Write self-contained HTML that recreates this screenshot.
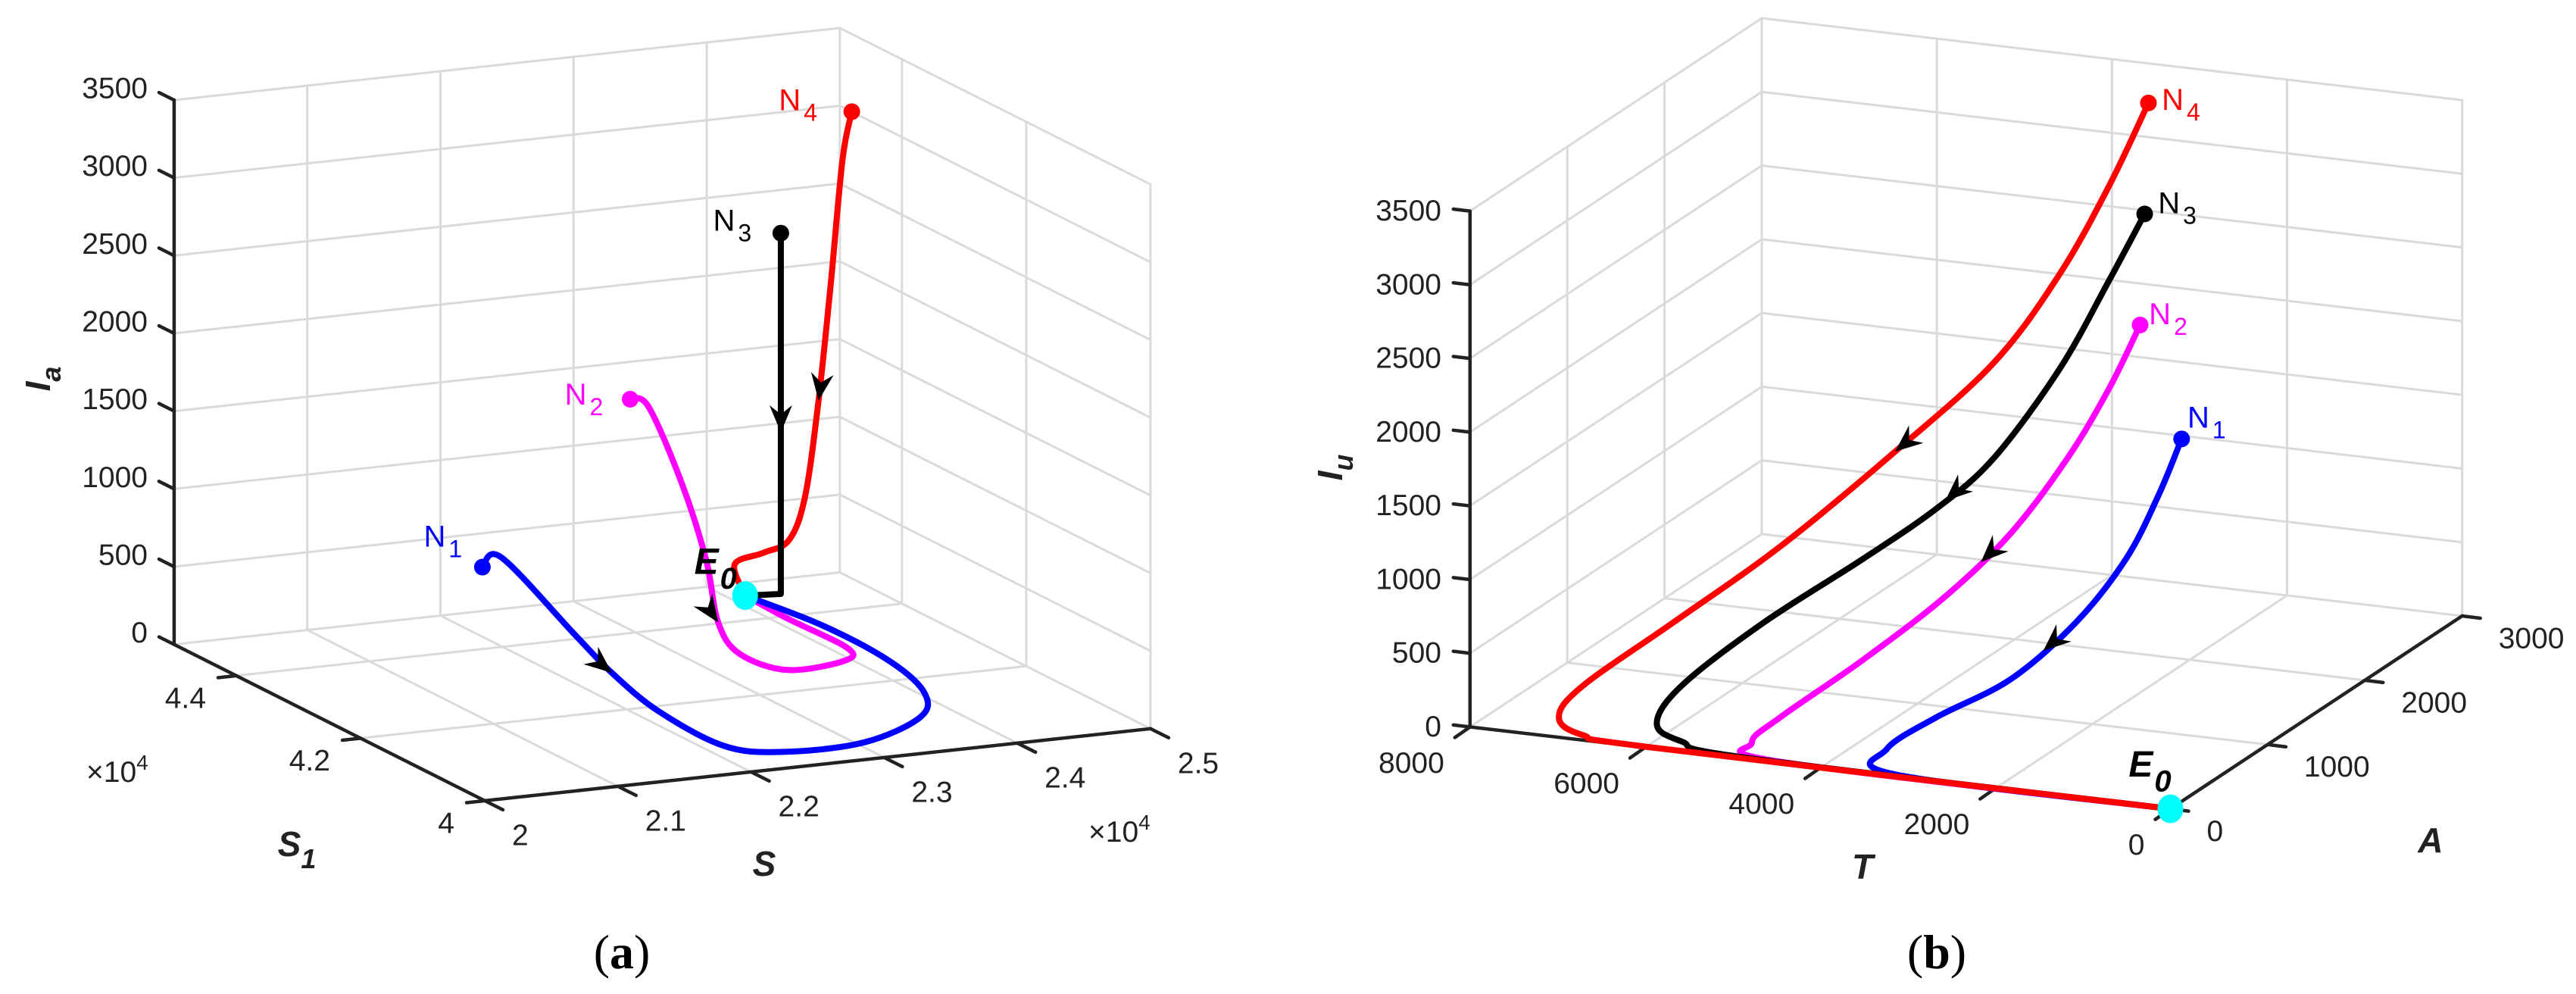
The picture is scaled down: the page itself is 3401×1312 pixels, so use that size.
<!DOCTYPE html>
<html><head><meta charset="utf-8"><style>
html,body{margin:0;padding:0;background:#fff;}
svg{display:block;}
text{font-family:"Liberation Sans",Arial,sans-serif;}
</style></head><body>
<svg id="fig" width="3401" height="1312" viewBox="0 0 3401 1312" xmlns="http://www.w3.org/2000/svg">
<g id="gridL"></g>
<g id="gridR"></g>
<g id="axesG"></g>
<g id="curvesG"></g>
<g id="labelsG"></g>
<text x="1009" y="1156" font-size="46" font-weight="bold" font-style="italic" text-anchor="middle" fill="#222">S</text>
<text x="392" y="1130" font-size="46" font-weight="bold" font-style="italic" text-anchor="middle" fill="#222">S<tspan font-size="36" dy="16">1</tspan></text>
<text transform="translate(66,500) rotate(-90)" font-size="46" font-weight="bold" font-style="italic" text-anchor="middle" fill="#222">I<tspan font-size="36" dy="14">a</tspan></text>
<text x="114" y="1032" font-size="39" fill="#222">×10<tspan font-size="28" dy="-16">4</tspan></text>
<text x="1437" y="1111" font-size="39" fill="#222">×10<tspan font-size="28" dy="-16">4</tspan></text>
<text x="821" y="1278" font-size="64" style="font-family:'Liberation Serif',serif" text-anchor="middle" fill="#000">(<tspan font-weight="bold">a</tspan>)</text>
<text x="2459" y="1160" font-size="46" font-weight="bold" font-style="italic" text-anchor="middle" fill="#222">T</text>
<text x="3209" y="1125" font-size="46" font-weight="bold" font-style="italic" text-anchor="middle" fill="#222">A</text>
<text transform="translate(1772,617) rotate(-90)" font-size="46" font-weight="bold" font-style="italic" text-anchor="middle" fill="#222">I<tspan font-size="36" dy="14">u</tspan></text>
<text x="2557" y="1278" font-size="64" style="font-family:'Liberation Serif',serif" text-anchor="middle" fill="#000">(<tspan font-weight="bold">b</tspan>)</text>
</svg>
<script>
// ---- Panel (a) data: S (x1e4), S1 (x1e4), Ia ----
const zTicksA = [0,500,1000,1500,2000,2500,3000,3500];
const sTicks = [2,2.1,2.2,2.3,2.4,2.5];
const s1Ticks = [4,4.2,4.4];
const n1S  = [2.190,2.204,2.202,2.207,2.208,2.215,2.243,2.305,2.372,2.405,2.422,2.424,2.413];
const n1S1 = [4.411,4.410,4.287,4.239,4.167,4.077,4.044,4.045,4.096,4.161,4.255,4.366,4.466];
const n1Ia = [500,550,300,150,50,0,0,0,0,0,0,0,0];
const n2S  = [2.287,2.291,2.321,2.357,2.348,2.338,2.348,2.396,2.412,2.411,2.413];
const n2S1 = [4.381,4.360,4.371,4.409,4.370,4.314,4.258,4.267,4.301,4.392,4.466];
const n2Ia = [1550,1540,1000,400,80,0,0,0,0,0,0];
const n3S  = [2.437,2.437,2.437,2.413];
const n3S1 = [4.460,4.460,4.460,4.466];
const n3Ia = [2320,1038,0,0];
const n4S  = [2.495,2.488,2.479,2.470,2.460,2.448,2.429,2.407,2.413];
const n4S1 = [4.470,4.470,4.470,4.470,4.470,4.470,4.470,4.470,4.466];
const n4Ia = [3027,2724,1918,1193,590,318,253,198,0];
const e0A = [2.413,4.466,0];
// ---- Panel (b) data: T, A, Iu ----
const zTicksB = [0,500,1000,1500,2000,2500,3000,3500];
const tTicks = [0,2000,4000,6000,8000];
const aTicks = [0,1000,2000,3000];
const m1T = [2760,2693,2675,2799,3048,3393,3461,3144,0];
const m1A = [2600,2300,1950,1550,1100,650,200,0,0];
const m1I = [1184,934,658,395,187,103,78,15,0];
const m2T = [3234,3309,3450,3715,4076,4570,5009,4947,4453,0];
const m2A = [2600,2350,2050,1700,1350,950,500,150,0,0];
const m2I = [1924,1599,1247,868,566,277,56,40,10,0];
const m3T = [3182,3309,3544,3960,4337,4848,5587,6082,6033,5615,4832,0];
const m3A = [2600,2350,2050,1750,1500,1200,850,450,150,30,0,0];
const m3I = [2681,2332,1843,1342,1082,834,506,217,95,54,10,0];
const m4T = [3139,3309,3544,3960,4699,5564,6399,7043,7096,6732,5866,0];
const m4A = [2600,2350,2050,1750,1400,1000,650,300,100,20,0,0];
const m4I = [3437,2974,2486,1989,1487,959,537,215,86,24,5,0];
const e0B = [0,0,0];

const NS='http://www.w3.org/2000/svg';
function mk(tag,attrs,parent){const e=document.createElementNS(NS,tag);for(const k in attrs)e.setAttribute(k,attrs[k]);parent.appendChild(e);return e;}
function pL(S,S1,z){const u=(S-2)/0.5,v=(S1-4)/0.5;return [640.0+878.9*u-410.1*v,1056.9-95.1*u-206.3*v-z*718.5/3500];}
function pR(T,A,z){return [2865.5-924.7*T/8000+385.2*A/3000,1067.6-108.1*T/8000-254.6*A/3000-680.9*z/3500];}

const gL=document.getElementById('gridL'),gR=document.getElementById('gridR'),ax=document.getElementById('axesG'),cv=document.getElementById('curvesG'),lb=document.getElementById('labelsG');
function line(p,q,parent,stroke,w,name){const e=mk('line',{x1:p[0],y1:p[1],x2:q[0],y2:q[1],stroke:stroke,'stroke-width':w,'stroke-linecap':'round'},parent);


return e;}
const GC='#dadada';
zTicksA.forEach(z=>{line(pL(2,4.5,z),pL(2.5,4.5,z),gL,GC,3,'grid-line');line(pL(2.5,4.5,z),pL(2.5,4,z),gL,GC,3,'grid-line');});
sTicks.slice(1).forEach(s=>{line(pL(s,4.5,0),pL(s,4.5,3500),gL,GC,3,'grid-line');});
s1Ticks.forEach(s1=>{line(pL(2.5,s1,0),pL(2.5,s1,3500),gL,GC,3,'grid-line');});
sTicks.slice(1,-1).forEach(s=>{line(pL(s,4,0),pL(s,4.5,0),gL,GC,3,'grid-line');});
s1Ticks.slice(1).forEach(s1=>{line(pL(2,s1,0),pL(2.5,s1,0),gL,GC,3,'grid-line');});
zTicksB.forEach(z=>{line(pR(8000,0,z),pR(8000,3000,z),gR,GC,3,'grid-line');line(pR(8000,3000,z),pR(0,3000,z),gR,GC,3,'grid-line');});
aTicks.slice(1).forEach(a=>{line(pR(8000,a,0),pR(8000,a,3500),gR,GC,3,'grid-line');});
tTicks.slice(0,-1).forEach(t=>{line(pR(t,3000,0),pR(t,3000,3500),gR,GC,3,'grid-line');});
tTicks.slice(1,-1).forEach(t=>{line(pR(t,0,0),pR(t,3000,0),gR,GC,3,'grid-line');});
aTicks.slice(1,-1).forEach(a=>{line(pR(8000,a,0),pR(0,a,0),gR,GC,3,'grid-line');});

const AC='#222';
function txt(x,y,s,anchor,name,size){const t=mk('text',{x:x,y:y,'font-size':size||39,'text-anchor':anchor,'dominant-baseline':'central',fill:'#222'},lb);t.textContent=s;

return t;}
function add(p,d){return [p[0]+d[0],p[1]+d[1]];}
line(pL(2,4.5,0),pL(2,4.5,3500),ax,AC,4.5,'z-axis-a');
line(pL(2,4.5,0),pL(2,4,0),ax,AC,4.5,'s1-axis');
line(pL(2,4,0),pL(2.5,4,0),ax,AC,4.5,'s-axis');
zTicksA.forEach(z=>{const p=pL(2,4.5,z);line(p,add(p,[-20,-10]),ax,AC,4.5,'z-tick-a');txt(195,p[1]-15,String(z),'end','z-tick-label-a');});
s1Ticks.forEach(s1=>{const p=pL(2,s1,0);line(p,add(p,[-24,2.6]),ax,AC,4.5,'s1-tick');txt(p[0]-40,p[1]+30,String(s1),'end','s1-tick-label');});
sTicks.forEach(s=>{const p=pL(s,4,0);line(p,add(p,[24,12]),ax,AC,4.5,'s-tick');txt(p[0]+36,p[1]+46,String(s),'start','s-tick-label');});
line(pR(8000,0,0),pR(8000,0,3500),ax,AC,4.5,'z-axis-b');
line(pR(8000,0,0),pR(0,0,0),ax,AC,4.5,'t-axis');
line(pR(0,0,0),pR(0,3000,0),ax,AC,4.5,'a-axis');
zTicksB.forEach(z=>{const p=pR(8000,0,z);line(p,add(p,[-22,-2.6]),ax,AC,4.5,'z-tick-b');txt(1903,p[1],String(z),'end','z-tick-label-b');});
tTicks.forEach(t=>{const p=pR(t,0,0);line(p,add(p,[-20,14]),ax,AC,4.5,'t-tick');txt(p[0]-34,p[1]+48,String(t),'end','t-tick-label');});
aTicks.forEach(a=>{const p=pR(0,a,0);line(p,add(p,[24,3]),ax,AC,4.5,'a-tick');txt(p[0]+48,p[1]+30,String(a),'start','a-tick-label');});

function smoothPath(pts,straight){if(straight)return 'M'+pts.map(p=>p[0].toFixed(1)+','+p[1].toFixed(1)).join(' L');
let d='M'+pts[0][0].toFixed(1)+','+pts[0][1].toFixed(1);
for(let i=0;i<pts.length-1;i++){const p0=pts[Math.max(0,i-1)],p1=pts[i],p2=pts[i+1],p3=pts[Math.min(pts.length-1,i+2)];
const c1=[p1[0]+(p2[0]-p0[0])/6,p1[1]+(p2[1]-p0[1])/6],c2=[p2[0]-(p3[0]-p1[0])/6,p2[1]-(p3[1]-p1[1])/6];
d+=' C'+c1[0].toFixed(1)+','+c1[1].toFixed(1)+' '+c2[0].toFixed(1)+','+c2[1].toFixed(1)+' '+p2[0].toFixed(1)+','+p2[1].toFixed(1);}return d;}
function drawSeries(pts,color,name,arrowIdx,straight,labelTxt,lOff){
const path=mk('path',{d:smoothPath(pts,straight),fill:'none',stroke:color,'stroke-width':8,'stroke-linejoin':'round','stroke-linecap':'round'},cv);


const i=Math.floor(arrowIdx),f=arrowIdx-i;const a=pts[i],b=pts[Math.min(i+1,pts.length-1)];
const p=[a[0]+(b[0]-a[0])*f,a[1]+(b[1]-a[1])*f];const ang=Math.atan2(b[1]-a[1],b[0]-a[0])*180/Math.PI;
const ar=mk('path',{d:'M0,0 L-36,-15 L-24,0 L-36,15 Z',fill:'#000',transform:'translate('+p[0].toFixed(1)+','+p[1].toFixed(1)+') rotate('+ang.toFixed(1)+')'},cv);


const m=mk('circle',{cx:pts[0][0],cy:pts[0][1],r:11,fill:color},cv);


const t=mk('text',{x:pts[0][0]+lOff[0],y:pts[0][1]+lOff[1],'font-size':40,'text-anchor':'middle','dominant-baseline':'central',fill:color},lb);


t.appendChild(document.createTextNode('N'));const ts=mk('tspan',{'font-size':32,dx:4,dy:16},t);ts.textContent=labelTxt;}
function ptsL(S,S1,I){return S.map((s,k)=>pL(s,S1[k],I[k]));}
function ptsR(T,A,I){return T.map((t,k)=>pR(t,A[k],I[k]));}
drawSeries(ptsL(n2S,n2S1,n2Ia),'#ff00ff','n2-a',4,false,'2',[-61,-6]);
drawSeries(ptsL(n1S,n1S1,n1Ia),'#0000ff','n1-a',3,false,'1',[-52,-40]);
drawSeries(ptsL(n4S,n4S1,n4Ia),'#ff0000','n4-a',3,false,'4',[-71,-15]);
drawSeries(ptsL(n3S,n3S1,n3Ia),'#000000','n3-a',1,true,'3',[-64,-16]);
drawSeries(ptsR(m1T,m1A,m1I),'#0000ff','n1-b',3.5,false,'1',[33,-28]);
drawSeries(ptsR(m2T,m2A,m2I),'#ff00ff','n2-b',3.45,false,'2',[37,-14]);
drawSeries(ptsR(m3T,m3A,m3I),'#000000','n3-b',3.85,false,'3',[43,-14]);
drawSeries(ptsR(m4T,m4A,m4I),'#ff0000','n4-b',4,false,'4',[43,-4]);
function eq(p,name,off){const c=mk('ellipse',{cx:p[0],cy:p[1],rx:17,ry:19,fill:'#00ffff'},cv);


const t=mk('text',{x:p[0]+off[0],y:p[1]+off[1],'font-size':48,'font-weight':'bold','font-style':'italic','text-anchor':'middle','dominant-baseline':'central',fill:'#000'},lb);


t.appendChild(document.createTextNode('E'));const ts=mk('tspan',{'font-size':40,dx:2,dy:22},t);ts.textContent='0';}
eq(pL(e0A[0],e0A[1],e0A[2]),'e0-a',[-39,-44]);
eq(pR(e0B[0],e0B[1],e0B[2]),'e0-b',[-27,-58]);
</script>
</body></html>
